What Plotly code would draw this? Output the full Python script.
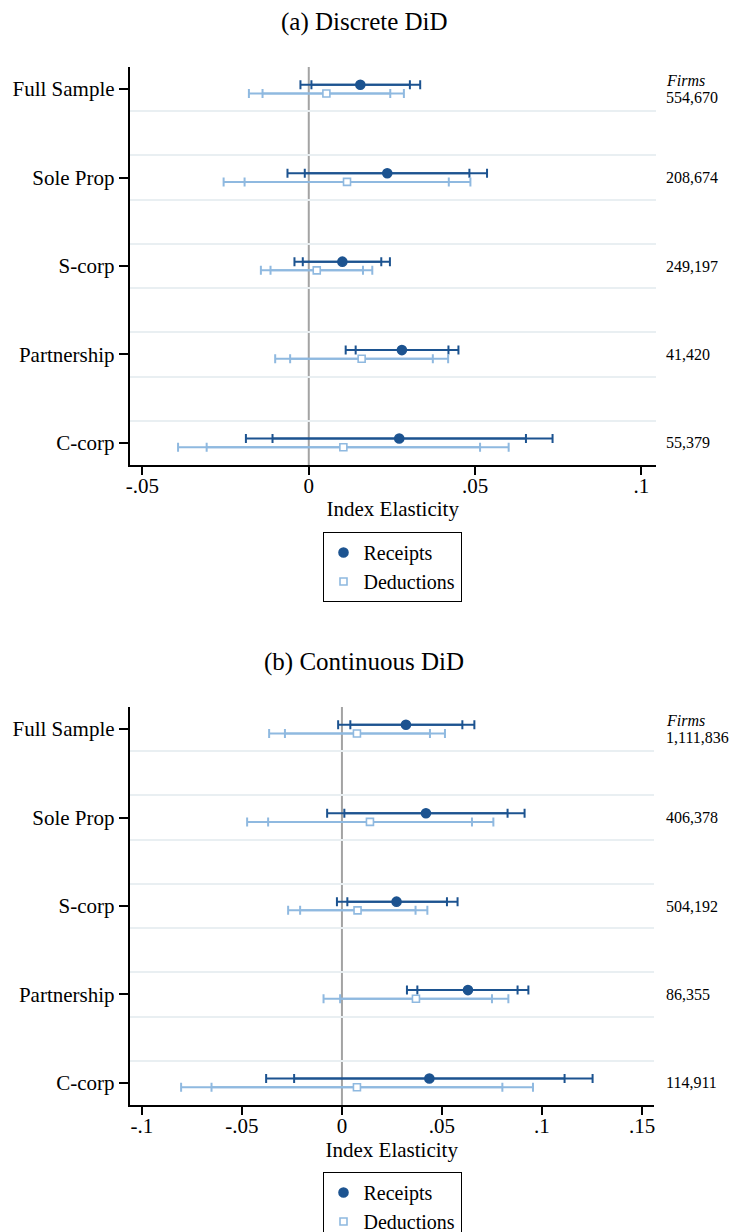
import plotly.graph_objects as go

# ---------------- data ----------------
categories = ["Full Sample", "Sole Prop", "S-corp", "Partnership", "C-corp"]

disc_rec_est = [0.0155, 0.0236, 0.0101, 0.0280, 0.0272]
disc_rec_lo95 = [-0.0025, -0.0064, -0.0043, 0.0111, -0.0189]
disc_rec_hi95 = [0.0335, 0.0536, 0.0244, 0.0450, 0.0733]
disc_rec_lo90 = [0.0008, -0.0012, -0.0018, 0.0141, -0.0109]
disc_rec_hi90 = [0.0304, 0.0483, 0.0218, 0.0420, 0.0653]
disc_ded_est = [0.0053, 0.0115, 0.0024, 0.0159, 0.0104]
disc_ded_lo95 = [-0.0180, -0.0256, -0.0144, -0.0101, -0.0393]
disc_ded_hi95 = [0.0286, 0.0486, 0.0191, 0.0419, 0.0601]
disc_ded_lo90 = [-0.0139, -0.0193, -0.0115, -0.0056, -0.0307]
disc_ded_hi90 = [0.0245, 0.0421, 0.0163, 0.0373, 0.0515]
disc_firms = ["554,670", "208,674", "249,197", "41,420", "55,379"]

cont_rec_est = [0.0320, 0.0420, 0.0273, 0.0630, 0.0437]
cont_rec_lo95 = [-0.0019, -0.0074, -0.0025, 0.0325, -0.0379]
cont_rec_hi95 = [0.0662, 0.0913, 0.0578, 0.0932, 0.1253]
cont_rec_lo90 = [0.0042, 0.0012, 0.0027, 0.0377, -0.0239]
cont_rec_hi90 = [0.0602, 0.0828, 0.0525, 0.0878, 0.1113]
cont_ded_est = [0.0075, 0.0140, 0.0078, 0.0370, 0.0075]
cont_ded_lo95 = [-0.0364, -0.0474, -0.0269, -0.0092, -0.0804]
cont_ded_hi95 = [0.0515, 0.0757, 0.0427, 0.0832, 0.0955]
cont_ded_lo90 = [-0.0285, -0.0369, -0.0209, -0.0009, -0.0652]
cont_ded_hi90 = [0.0440, 0.0650, 0.0368, 0.0750, 0.0802]
cont_firms = ["1,111,836", "406,378", "504,192", "86,355", "114,911"]

disc_xticks = [-0.05, 0, 0.05, 0.1]
disc_xticktext = ["-.05", "0", ".05", ".1"]
cont_xticks = [-0.1, -0.05, 0, 0.05, 0.1, 0.15]
cont_xticktext = ["-.1", "-.05", "0", ".05", ".1", ".15"]

panel_titles = ["(a) Discrete DiD", "(b) Continuous DiD"]
series_names = ["Receipts", "Deductions"]

# ---------------- style ----------------
FONT = "Liberation Serif"
DARK = "#1c5390"
LIGHT = "#8fb9e0"
W, H = 730, 1232
OFFSET = 0.049

fig = go.Figure()


def add_series(est, lo95, hi95, lo90, hi90, offset, color, name, xa, ya,
               symbol, fill, showlegend, legend):
    ys = [i + offset for i in range(len(est))]
    for lo, hi in ((lo95, hi95), (lo90, hi90)):
        fig.add_trace(go.Scatter(
            x=est, y=ys, mode="markers", xaxis=xa, yaxis=ya,
            marker=dict(size=1, color="rgba(0,0,0,0)"),
            error_x=dict(type="data", symmetric=False,
                         array=[h - e for h, e in zip(hi, est)],
                         arrayminus=[e - l for e, l in zip(est, lo)],
                         color=color, thickness=2, width=4.5),
            showlegend=False, hoverinfo="skip"))
    fig.add_trace(go.Scatter(
        x=est, y=ys, mode="markers", xaxis=xa, yaxis=ya, name=name,
        marker=dict(symbol=symbol, size=9 if symbol == "circle" else 7,
                    color=fill, line=dict(color=color, width=1.6)),
        showlegend=showlegend, legend=legend, legendgroup=name + legend))


panels = [
    (disc_rec_est, disc_rec_lo95, disc_rec_hi95, disc_rec_lo90, disc_rec_hi90,
     disc_ded_est, disc_ded_lo95, disc_ded_hi95, disc_ded_lo90, disc_ded_hi90,
     "x", "y", "legend"),
    (cont_rec_est, cont_rec_lo95, cont_rec_hi95, cont_rec_lo90, cont_rec_hi90,
     cont_ded_est, cont_ded_lo95, cont_ded_hi95, cont_ded_lo90, cont_ded_hi90,
     "x2", "y2", "legend2"),
]
for p in panels:
    add_series(p[0], p[1], p[2], p[3], p[4], -OFFSET, DARK, series_names[0],
               p[10], p[11], "circle", DARK, True, p[12])
    add_series(p[5], p[6], p[7], p[8], p[9], OFFSET, LIGHT, series_names[1],
               p[10], p[11], "square", "white", True, p[12])

n = len(categories)
minor_vals = []
for i in range(n - 1):
    minor_vals += [i + 0.25, i + 0.75]

tickfont = dict(family=FONT, size=21, color="black")


def yaxis_cfg(domain):
    return dict(domain=domain, range=[n - 0.75, -0.25], tickvals=list(range(n)),
                ticktext=categories, ticks="outside", ticklen=9, tickwidth=1.5,
                tickcolor="black", showline=True, linecolor="black", linewidth=1.5,
                showgrid=False, zeroline=False, tickfont=tickfont,
                minor=dict(tickvals=minor_vals, showgrid=True, gridcolor="#e9eff2",
                           gridwidth=1.5, ticklen=0),
                ticklabelstandoff=0)


def xaxis_cfg(domain, rng, tv, tt, anchor):
    return dict(domain=domain, range=rng, tickvals=tv, ticktext=tt, anchor=anchor,
                ticks="outside", ticklen=8, tickwidth=1.5, tickcolor="black",
                showline=True, linecolor="black", linewidth=1.5, showgrid=False,
                zeroline=False, tickfont=tickfont, ticklabelstandoff=-7,
                title=dict(text="Index Elasticity", font=tickfont, standoff=4))


legend_common = dict(x=392 / W, xanchor="center", yanchor="top",
                     bordercolor="black", borderwidth=1, bgcolor="white",
                     font=dict(family=FONT, size=20), tracegroupgap=0,
                     traceorder="grouped")

fig.update_layout(
    width=W, height=H, margin=dict(l=0, r=0, t=0, b=0, autoexpand=False),
    plot_bgcolor="white", paper_bgcolor="white",
    font=dict(family=FONT, color="black"),
    xaxis=xaxis_cfg([129.5 / W, 656 / W], [-0.0539, 0.1044], disc_xticks, disc_xticktext, "y"),
    yaxis=yaxis_cfg([1 - 465 / H, 1 - 67 / H]),
    xaxis2=xaxis_cfg([129.5 / W, 654 / W], [-0.1062, 0.156], cont_xticks, cont_xticktext, "y2"),
    yaxis2=dict(yaxis_cfg([1 - 1105 / H, 1 - 707 / H]), anchor="x2"),
    legend=dict(legend_common, y=1 - 532 / H),
    legend2=dict(legend_common, y=1 - 1172 / H),
    showlegend=True,
)

# zero reference lines
for xa, ya in (("x", "y"), ("x2", "y2")):
    fig.add_shape(type="line", xref=xa, yref=ya + " domain", x0=0, x1=0, y0=0, y1=1,
                  line=dict(color="#a3a3a3", width=2), layer="below")

# panel titles
for title, ypx in zip(panel_titles, (22, 662)):
    fig.add_annotation(text=title, xref="paper", yref="paper", x=364 / W, y=1 - ypx / H,
                       xanchor="center", yanchor="middle", showarrow=False,
                       font=dict(family=FONT, size=25, color="black"))

# firm counts
for firms, ya in ((disc_firms, "y"), (cont_firms, "y2")):
    for i, f in enumerate(firms):
        shift = -8.5 if i == 0 else 0
        fig.add_annotation(text=f, xref="paper", yref=ya, x=664 / W, y=i,
                           xanchor="left", yanchor="middle", yshift=shift,
                           showarrow=False, font=dict(family=FONT, size=16, color="black"))
    fig.add_annotation(text="<i>Firms</i>", xref="paper", yref=ya, x=664 / W, y=0,
                       xanchor="left", yanchor="middle", yshift=8.5,
                       showarrow=False, font=dict(family=FONT, size=16, color="black"))

fig.write_html("out.html", config={"displayModeBar": False},
               post_script="document.body.style.margin='0';"
                           "document.body.style.overflow='hidden';")
